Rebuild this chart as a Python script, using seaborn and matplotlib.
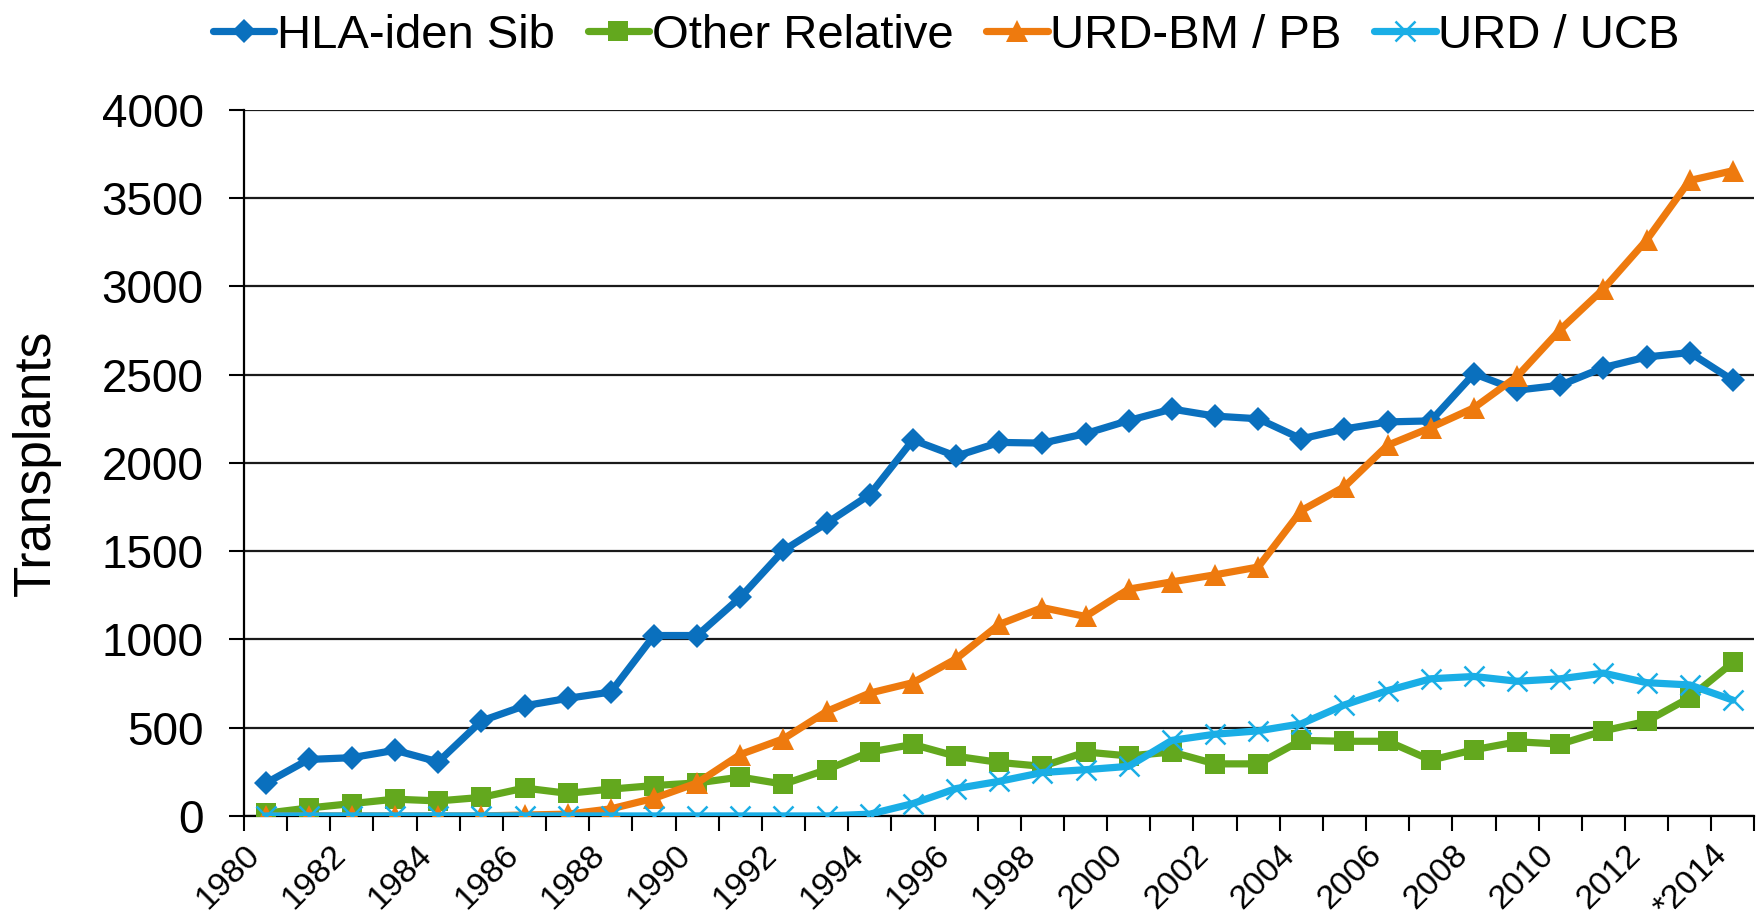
import numpy as np
import pandas as pd
import matplotlib
matplotlib.use("Agg")
import matplotlib.pyplot as plt
import seaborn as sns

# Transplants per year by donor type
years = list(range(1980, 2015))
year_labels = [str(y) for y in years[:-1]] + ["*2014"]

hla_iden_sib = [185, 320, 330, 372, 306, 538, 624, 666, 702, 1022, 1022, 1238,
                1504, 1658, 1820, 2130, 2038, 2116, 2112, 2166, 2240, 2305,
                2265, 2250, 2136, 2192, 2232, 2238, 2505, 2412, 2440, 2540,
                2600, 2625, 2468]
other_relative = [15, 45, 70, 95, 85, 105, 158, 128, 152, 172, 187, 220, 180,
                  262, 362, 405, 338, 303, 281, 362, 340, 362, 295, 295, 428,
                  423, 423, 316, 375, 420, 407, 482, 536, 670, 870]
urd_bm_pb = [0, 0, 0, 0, 0, 0, 5, 10, 40, 100, 187, 348, 437, 592, 696, 755,
             890, 1085, 1180, 1130, 1285, 1326, 1366, 1410, 1730, 1865, 2100,
             2200, 2312, 2490, 2755, 2985, 3262, 3600, 3655]
urd_ucb = [0, 0, 0, 0, 0, 0, 0, 0, 0, 0, 0, 0, 0, 0, 10, 70, 155, 196, 246,
           262, 281, 428, 463, 482, 522, 629, 710, 777, 790, 763, 777, 809,
           755, 742, 656]

series = {
    "HLA-iden Sib": hla_iden_sib,
    "Other Relative": other_relative,
    "URD-BM / PB": urd_bm_pb,
    "URD / UCB": urd_ucb,
}
styles = {
    "HLA-iden Sib": dict(color="#0A70BE", marker="D", ms=12, mew=0),
    "Other Relative": dict(color="#63A81E", marker="s", ms=15, mew=0),
    "URD-BM / PB": dict(color="#EE7A0E", marker="^", ms=16, mew=0),
    "URD / UCB": dict(color="#1AAEE6", marker="x", ms=15, mew=1.8),
}

sns.set_style("white")
plt.rcParams["font.family"] = ["Liberation Sans", "DejaVu Sans"]
plt.rcParams["text.color"] = "black"
plt.rcParams["axes.labelcolor"] = "black"
plt.rcParams["xtick.color"] = "black"
plt.rcParams["ytick.color"] = "black"

fig = plt.figure(figsize=(17.58, 9.23), dpi=100)
ax = fig.add_axes([0.1388, 0.116, 0.8592, 0.765])

x = np.arange(len(years))
for name, vals in series.items():
    st = styles[name]
    sns.lineplot(x=x, y=vals, ax=ax, color=st["color"], linewidth=5.2,
                 marker=st["marker"], markersize=st["ms"],
                 markeredgewidth=st["mew"], markeredgecolor=st["color"],
                 label=name, zorder=3)

ax.set_xlim(-0.5, len(years) - 0.5)
ax.set_ylim(0, 4000)
ax.set_yticks(range(0, 4001, 500))
ax.tick_params(axis="y", labelsize=33, length=11, width=1.5, direction="out",
               left=True, pad=18)
ax.yaxis.grid(True, color="#1a1a1a", linewidth=1.6)
ax.set_axisbelow(True)

ax.set_xticks(x[::2])
ax.set_xticklabels(year_labels[::2], rotation=45, ha="right", fontsize=24.5)
ax.set_xticks(np.arange(-0.5, len(years), 1), minor=True)
ax.tick_params(axis="x", which="major", length=0, pad=17)
ax.tick_params(axis="x", which="minor", length=11, width=1.5,
               direction="out", bottom=True)

for side in ["top", "right"]:
    ax.spines[side].set_visible(False)
for side in ["left", "bottom"]:
    ax.spines[side].set_color("black")
    ax.spines[side].set_linewidth(1.6)

ax.set_ylabel("Transplants", fontsize=37)
ax.yaxis.set_label_coords(-0.121, 0.5)
ax.set_xlabel("")

leg = ax.legend(loc="center", bbox_to_anchor=(0.465, 1.105), ncol=4,
                frameon=False, fontsize=34, handlelength=1.3,
                handletextpad=0.05, columnspacing=0.7, borderaxespad=0)

fig.savefig("out.png", dpi=100)
